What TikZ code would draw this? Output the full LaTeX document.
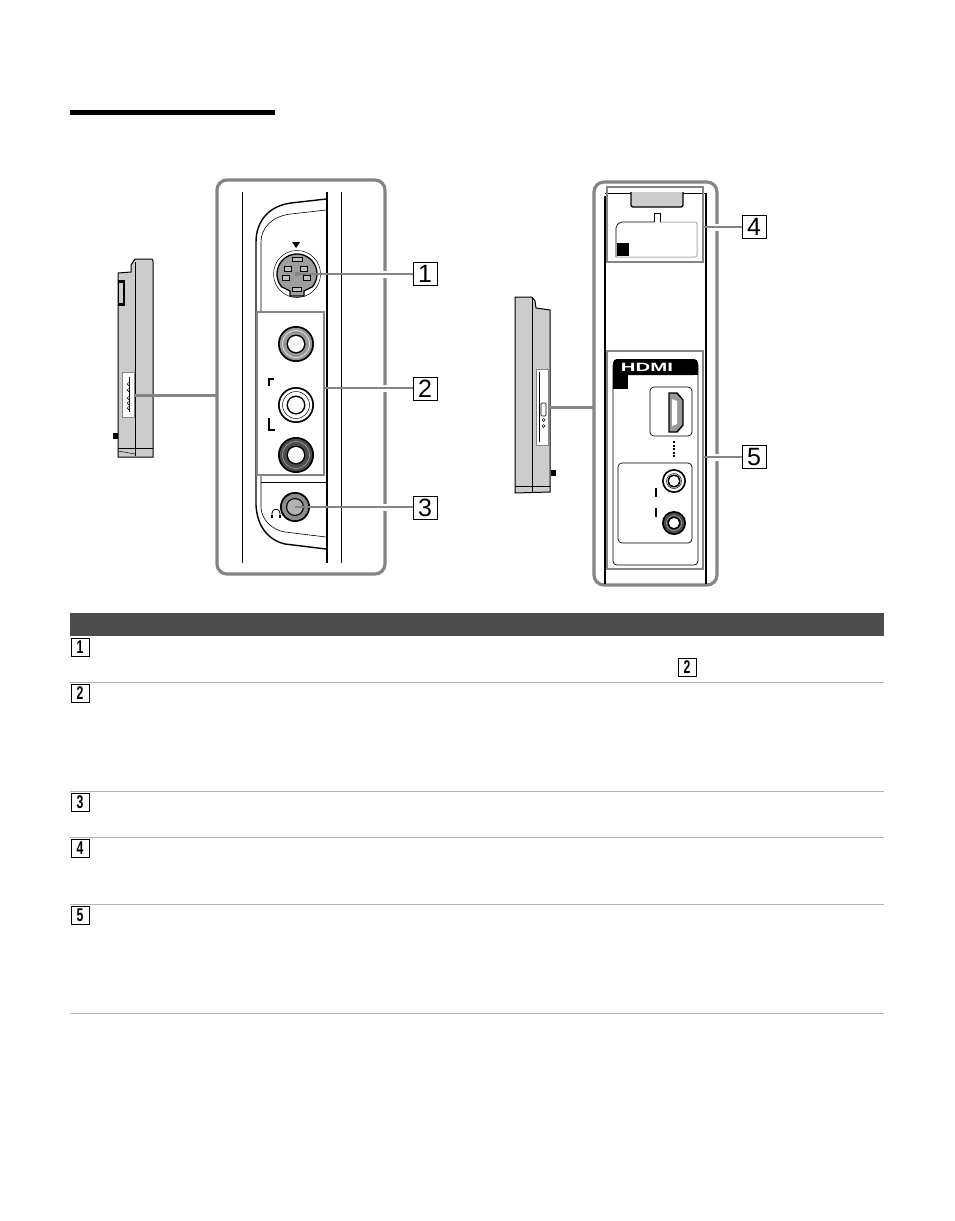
\documentclass[tikz,border=0pt]{standalone}
\usepackage{fontspec}
\setmainfont{Liberation Sans}
\definecolor{frameg}{gray}{0.52}
\definecolor{ruleg}{gray}{0.70}
\definecolor{bodyg}{gray}{0.80}
\definecolor{headg}{gray}{0.30}
\tikzset{
  x=1pt,y=-1pt,
  frameline/.style={draw=frameg,line width=3.2pt,rounded corners=10pt},
  selbox/.style={draw=frameg,line width=2pt},
  leader/.style={draw=frameg,line width=2pt},
  thinleader/.style={draw=frameg,line width=1.2pt},
  heavyleader/.style={draw=frameg,line width=3pt},
  halo/.style={draw=white,line width=7pt},
  blk/.style={draw=black,line width=1pt},
  heavy/.style={draw=black,line width=1.9pt},
  biglabel/.style={draw=black,line width=1pt,fill=white,minimum width=24pt,minimum height=23pt,inner sep=0pt,font=\fontsize{25}{25}\selectfont},
  smalllabel/.style={draw=black,line width=1pt,fill=white,minimum width=18pt,minimum height=18pt,inner sep=0pt},
  rowrule/.style={draw=ruleg,line width=1.1pt},
}
\newcommand{\smalldigit}[1]{\scalebox{0.66}[1]{\fontsize{18.5}{18.5}\selectfont\bfseries #1}}
\newcommand{\jack}[6]{% x y r ringfill inner-ring-radius line
  \fill[black] (#1,#2) circle[radius=#3];
  \fill[#4] (#1,#2) circle[radius=#3-1.8];
  \draw[#6,line width=0.5pt] (#1,#2) circle[radius=#3-4.5];
  \fill[black] (#1,#2) circle[radius=#5];
  \fill[white] (#1,#2) circle[radius=#5-1.5];
}
\begin{document}
\begin{tikzpicture}
\useasboundingbox (0,0) rectangle (954,1221);
\fill[white] (0,0) rectangle (954,1221);
% title bar
\fill[black] (70,110) rectangle (275,115);

% ---------- left TV side
\path[fill=bodyg,draw=black,line width=1pt] (135,259) -- (152,259) -- (153,261) -- (153,457) -- (118,457) -- (118,273) -- (131,272) -- (131,265) -- (135,259) -- cycle;
\draw[blk,line width=0.7pt] (135,262) -- (135,456);
\draw[blk,line width=0.5pt] (118,448) -- (153,448);
\draw[blk,line width=0.5pt] (118,451) -- (135,454);
\fill[black] (118,280) rectangle (125,306);
\fill[bodyg] (119,283) rectangle (123,303);
\fill[black] (113,433) rectangle (118,439);
\path[fill=white,draw=frameg,line width=1pt] (122,372) rectangle (134,417);
\draw[blk,line width=0.5pt] (129,377) -- (129,412);
\foreach \yy in {384,390,398,403,408}{\draw[black,line width=0.5pt,fill=white] (128.5,\yy) circle[radius=1.4];}

% ---------- left frame
\draw[frameline] (217,180) rectangle (385,574);
\draw[blk] (242,192) -- (242,563);
\draw[heavy] (327,192) -- (327,563);
\draw[blk] (341,192) -- (341,563);
% panel outline
\draw[blk,line width=1.4pt] (326,199) -- (291,203) .. controls (268,206) and (256,222) .. (256,242) -- (256,505) .. controls (257,526) and (268,540) .. (285,544) -- (326,549);
\draw[black,line width=0.6pt] (326,210) -- (291,214) .. controls (272,216) and (261,228) .. (261,242) -- (261,311);
\draw[black,line width=0.6pt] (261,476) -- (261,508) .. controls (262,520) and (272,530) .. (285,532) -- (326,537);
\draw[black,line width=0.9pt] (261,482) -- (326,482);

% S-video jack
\draw[black,line width=0.5pt] (297,274) circle[radius=23.5];
\path[fill=black!38,draw=black,line width=1.3pt] plot[domain=-40:220,samples=50] ({297+20*cos(\x)},{274-20*sin(\x)}) -- (290,291) -- (290,296) -- (304,296) -- (304,291) -- cycle;
\fill[black] (296,248) -- (292,242) -- (300,242) -- cycle;
\foreach \px/\py/\pw/\ph in {297/259/10/4,288/269/7/5,304/269/7/5,286/278/7/5,307/278/7/5,297/289/9/4}{
  \path[fill=black!25,draw=black,line width=0.6pt] ({\px-\pw/2},{\py-\ph/2}) rectangle ({\px+\pw/2},{\py+\ph/2});}
\fill[frameg] (297,274) circle[radius=2.5];

% selection box 2 and its jacks
\jack{296}{344}{18}{black!40}{9.5}{white}
\jack{296}{405}{18}{white}{9.5}{black}
\jack{296}{455}{18}{black!70}{9.5}{black!30}
\draw[selbox] (257,312) rectangle (324,475);
\draw[black,line width=1.2pt] (269,386) -- (269,379) -- (274,379);
\draw[black,line width=1.2pt] (269,418) -- (269,430) -- (275,430);

% headphone jack
\fill[black] (295,507) circle[radius=15];
\fill[black!45] (295,507) circle[radius=13.2];
\fill[black] (295,507) circle[radius=9];
\fill[black!30] (295,507) circle[radius=7.8];
\draw[black,line width=0.8pt] (272,517) -- (272,513) .. controls (272,508) and (280,508) .. (280,513) -- (280,517);
\draw[black,line width=1.4pt] (272,515) -- (272,518);
\draw[black,line width=1.4pt] (280,515) -- (280,518);

% ---------- left leaders and labels
\node[biglabel] (n1) at (425,273.5) {1};
\node[biglabel] (n2) at (425,388.5) {2};
\node[biglabel] (n3) at (425,508) {3};
\coordinate (j1) at (297,274);
\coordinate (j2) at (324,388);
\coordinate (j3) at (295,507);
\draw[halo] (370,274) -- (400,274);
\draw[halo] (370,388) -- (400,388);
\draw[halo] (370,507) -- (400,507);
\draw[leader] (j1) -- (j1 -| n1.west);
\draw[thinleader] (j2) -- (j2 -| n2.west);
\draw[leader] (j3) -- (j3 -| n3.west);
\coordinate (ltv) at (134,395);
\coordinate (lfr) at (217,395);
\draw[heavyleader] (ltv) -- (lfr);

% ---------- right TV side
\path[fill=bodyg,draw=black,line width=1pt] (515,297) -- (532,297) -- (535,301) -- (536,308) -- (550,310) -- (550,492) -- (515,493) -- cycle;
\draw[blk,line width=0.7pt] (532,298) -- (532,492);
\draw[blk,line width=0.5pt] (515,486) -- (550,486);
\fill[black] (551,470) rectangle (556,476);
\path[fill=white,draw=frameg,line width=1pt] (536,369) rectangle (548,445);
\draw[blk,line width=0.5pt] (539,372) -- (539,442);
\draw[black,line width=0.6pt,rounded corners=1pt] (541,403) rectangle (546,416);
\draw[black,line width=0.5pt] (543.5,420) circle[radius=1.4];
\draw[black,line width=0.5pt] (543.5,426) circle[radius=1.4];

% ---------- right frame
\draw[frameline] (594,182) rectangle (717,585);
\draw[heavy] (605,196) -- (605,584);
\draw[heavy] (706,193) -- (706,584);
\draw[blk,line width=0.8pt] (605,193) -- (706,193);

% upper cover
\path[fill=bodyg,draw=black,line width=1.3pt,rounded corners=2pt] (631,192) -- (631,207) -- (683,207) -- (683,192);
\draw[black,line width=0.7pt,rounded corners=2pt] (654,222) -- (620,222) -- (616,226) -- (616,257);
\draw[ruleg,line width=1pt,rounded corners=2pt] (616,257) -- (697,257) -- (697,222) -- (660,222);
\draw[black,line width=0.7pt] (654,222) -- (654,213) -- (660,213) -- (660,222);
\fill[black] (617,243) rectangle (629,256);
\draw[selbox] (607,187) rectangle (703,262);

% HDMI panel
\draw[black,line width=0.7pt,rounded corners=4pt] (613,365) -- (613,565) -- (698,565) -- (698,365);
\fill[black,rounded corners=4pt] (613,375) -- (613,359) -- (698,359) -- (698,375) -- cycle;
\fill[black] (613,372) rectangle (628,389);
\fill[black] (613,372) rectangle (698,375);
\node[inner sep=0pt,text=white,font=\fontsize{12}{12}\selectfont\bfseries,xscale=1.7] (hdmi) at (647,367.5) {HDMI};
\draw[black,line width=0.7pt,rounded corners=4pt] (650,387) rectangle (692,436);
\path[fill=black!40,draw=black,line width=1.4pt] (669,393) -- (677,393) -- (683,400) -- (683,425) -- (677,432) -- (669,432) -- cycle;
\fill[white] (672,399) -- (677,401) -- (677,424) -- (672,426) -- cycle;
\draw[black,line width=1.2pt,dash pattern=on 2pt off 1.5pt] (674,441) -- (674,457);
\draw[black,line width=0.7pt,rounded corners=4pt] (618,463) rectangle (692,543);
\jack{674}{481}{12}{white}{6.5}{black}
\jack{674}{523}{12}{black!70}{6.5}{black!30}
\draw[black,line width=1.3pt] (656,488) -- (656,497);
\draw[black,line width=1.3pt] (656,508) -- (656,517);
\draw[selbox] (607,351) rectangle (703,569);

% ---------- right leaders and labels
\node[biglabel] (n4) at (754,227) {4};
\node[biglabel] (n5) at (754,457) {5};
\coordinate (b4) at (703,227);
\coordinate (b5) at (703,457);
\draw[halo] (711,227) -- (725,227);
\draw[halo] (711,457) -- (725,457);
\draw[leader] (b4) -- (n4.west);
\draw[leader] (b5) -- (n5.west);
\coordinate (rtv) at (548,407);
\coordinate (rfr) at (594,407);
\draw[heavyleader] (rtv) -- (rfr);

% ---------- table
\fill[headg] (70,613) rectangle (884,636);
\draw[rowrule] (70,682.5) -- (884,682.5);
\draw[rowrule] (70,791.5) -- (884,791.5);
\draw[rowrule] (70,837.5) -- (884,837.5);
\draw[rowrule] (70,904.5) -- (884,904.5);
\draw[rowrule] (70,1013.5) -- (884,1013.5);
\node[smalllabel] (r1) at (80,647) {\smalldigit{1}};
\node[smalllabel] (r1b) at (687,667.5) {\smalldigit{2}};
\node[smalllabel] (r2) at (80,693) {\smalldigit{2}};
\node[smalllabel] (r3) at (80,802) {\smalldigit{3}};
\node[smalllabel] (r4) at (80,848) {\smalldigit{4}};
\node[smalllabel] (r5) at (80,915) {\smalldigit{5}};
\end{tikzpicture}
\end{document}
